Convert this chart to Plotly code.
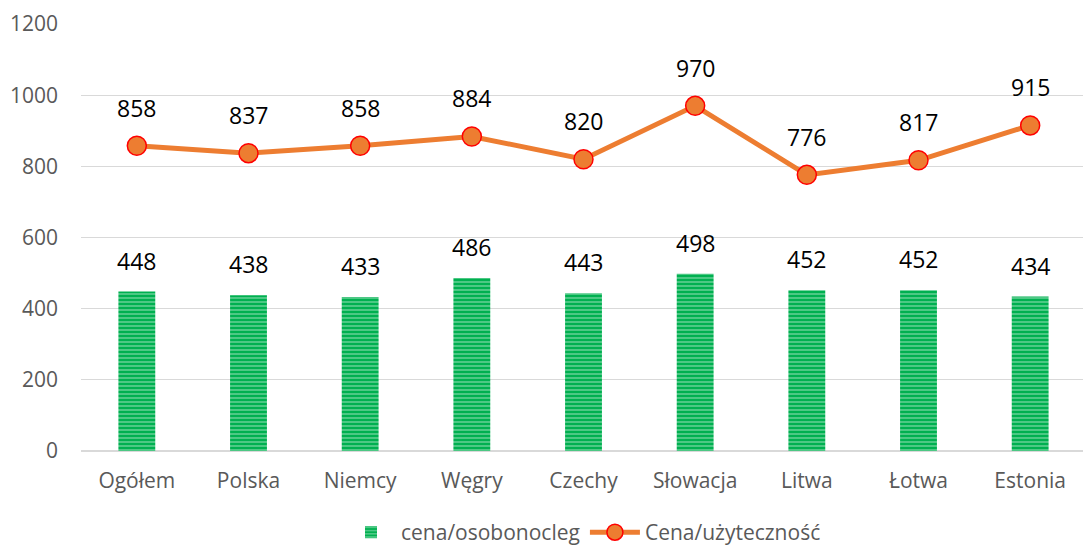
import plotly.graph_objects as go

categories = ["Ogółem", "Polska", "Niemcy", "Węgry", "Czechy", "Słowacja", "Litwa", "Łotwa", "Estonia"]
bar_values = [448, 438, 433, 486, 443, 498, 452, 452, 434]
line_values = [858, 837, 858, 884, 820, 970, 776, 817, 915]
bar_name = "cena/osobonocleg"
line_name = "Cena/użyteczność"
y_ticks = [0, 200, 400, 600, 800, 1000, 1200]

FONT = "Open Sans"
fig = go.Figure()
fig.add_trace(go.Bar(
    x=categories, y=bar_values, name=bar_name, width=0.33,
    marker=dict(color="#00B050", line=dict(width=0),
                pattern=dict(shape="-", fgcolor="white", bgcolor="#00B050", size=4, solidity=0.3)),
))
fig.add_trace(go.Scatter(
    x=categories, y=line_values, name=line_name, mode="lines+markers",
    line=dict(color="#ED7D31", width=5),
    marker=dict(size=19, color="#ED7D31", line=dict(color="#FF0000", width=1.5)),
))
annotations = []
for c, v in zip(categories, bar_values):
    annotations.append(dict(x=c, y=v, text=str(v), showarrow=False, yshift=31,
                            font=dict(family=FONT, size=23, color="#000000")))
for c, v in zip(categories, line_values):
    annotations.append(dict(x=c, y=v, text=str(v), showarrow=False, yshift=38,
                            font=dict(family=FONT, size=23, color="#000000")))
fig.update_layout(
    width=1083, height=537,
    margin=dict(l=73, r=5, t=16, b=94, autoexpand=False),
    paper_bgcolor="white", plot_bgcolor="white",
    font=dict(family=FONT, size=21, color="#595959"),
    annotations=annotations,
    showlegend=True,
    legend=dict(orientation="h", x=0.5, xanchor="center", y=-0.143, yanchor="top",
                font=dict(size=21, color="#595959"), itemwidth=50),
    bargap=0.5,
)
fig.update_yaxes(range=[0, 1200], tickvals=y_ticks, showgrid=True, gridcolor="#D9D9D9",
                 gridwidth=1, zeroline=True, zerolinecolor="#D9D9D9", showline=False,
                 ticks="", ticklabelstandoff=22, automargin=False, tickfont=dict(size=21))
fig.update_xaxes(range=[-0.5, len(categories) - 0.5], showgrid=False, showline=False, ticks="",
                 tickfont=dict(size=21), automargin=False, ticklabelstandoff=15)
fig.write_html("out.html")
